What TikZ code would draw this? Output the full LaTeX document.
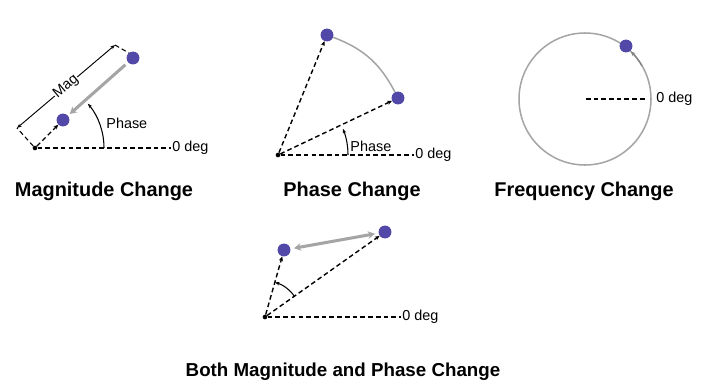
\documentclass[tikz,border=0pt]{standalone}
\usepackage{fontspec}
\setmainfont{Liberation Sans}
\usetikzlibrary{arrows.meta}
\definecolor{dotblue}{RGB}{82,72,168}
\definecolor{trackgray}{RGB}{165,165,165}
\begin{document}
\begin{tikzpicture}[x=0.03cm, y=-0.03cm,
    dot/.style={circle, fill=dotblue, inner sep=0pt, minimum size=11pt},
    origin/.style={circle, fill=black, inner sep=0pt, minimum size=4pt},
    vec/.style={dash pattern=on 4pt off 2.6pt, line width=1.2pt, -{Stealth[length=4pt, width=3.5pt]}},
    zero/.style={dash pattern=on 4pt off 2.6pt, line width=1.2pt},
    move/.style={trackgray, line width=2.6pt, -{Stealth[length=6pt, width=6.5pt]}},
    track/.style={trackgray, line width=1.3pt},
    angle/.style={line width=0.9pt, -{Stealth[length=4pt, width=3pt]}},
    lbl/.style={font=\fontsize{12.3}{14}\selectfont, anchor=west, inner sep=1pt},
    title/.style={font=\fontsize{17}{20}\selectfont\bfseries}
]
\useasboundingbox (0,0) rectangle (703,386);

% Magnitude change
\node[origin] (o1) at (35,148) {};
\node[dot] (d1a) at (63,120) {};
\node[dot] (d1b) at (133,58) {};
\node[lbl] (zero1) at (171,148) {0 deg};
\coordinate (m1) at (17,128);
\coordinate (m2) at (115,45);
\coordinate (e1) at (129,53);
\draw[zero] (o1) -- (zero1.west);
\draw[vec] (o1) -- (d1a);
\draw[move, shorten <=3pt, shorten >=2pt] (d1b) -- (d1a);
\draw[zero, line width=0.9pt] (o1) -- (m1);
\draw[zero, line width=0.9pt] (m2) -- (e1);
\draw[{Stealth[length=4pt, width=3pt]}-{Stealth[length=4pt, width=3pt]}, line width=0.8pt] (m1) -- node[sloped, fill=white, inner sep=0.5pt, font=\fontsize{12.3}{14}\selectfont] (mag) {Mag} (m2);
\draw[angle] (o1) ++(69,0) arc[start angle=0, end angle=-40, radius=69];
\node[lbl] (phase1) at (105,123) {Phase};
\node[title] (t1) at (104,191) {Magnitude Change};

% Phase change
\node[origin] (o2) at (278,155) {};
\node[dot] (d2a) at (327,35) {};
\node[dot] (d2b) at (398,98) {};
\node[lbl] (zero2) at (414,155) {0 deg};
\draw[zero] (o2) -- (zero2.west);
\draw[vec] (o2) -- (d2a);
\draw[vec] (o2) -- (d2b);
\draw[track] (d2a) to[bend left=21] (d2b);
\draw[angle] (o2) ++(70,0) arc[start angle=0, end angle=-22, radius=70];
\node[lbl] (phase2) at (349,146) {Phase};
\node[title] (t2) at (352,191) {Phase Change};

% Frequency change
\node[inner sep=0pt] (c3) at (585,99) {};
\draw[track] (c3) circle[radius=66];
\node[dot] (d3) at (626,46) {};
\node[lbl] (zero3) at (655,99) {0 deg};
\draw[zero] (c3) -- ++(60,0);
\draw[trackgray!80!black, line width=1.1pt, -{Stealth[length=4pt, width=3.5pt]}] (c3) ++(-30:66) arc[start angle=-30, end angle=-46, radius=66];
\node[title] (t3) at (584,191) {Frequency Change};

% Both magnitude and phase change
\node[origin] (o4) at (265,317) {};
\node[dot] (d4a) at (284,250) {};
\node[dot] (d4b) at (385,232) {};
\node[lbl] (zero4) at (401,317) {0 deg};
\draw[zero] (o4) -- (zero4.west);
\draw[vec] (o4) -- (d4a);
\draw[vec] (o4) -- (d4b);
\draw[move, {Stealth[length=6pt, width=6.5pt]}-{Stealth[length=6pt, width=6.5pt]}, shorten <=3pt, shorten >=3pt] (d4a) -- (d4b);
\draw[angle] (o4) ++(-35:36) arc[start angle=-35, end angle=-74, radius=36];
\node[title, font=\fontsize{16}{19}\selectfont\bfseries] (t4) at (343,372) {Both Magnitude and Phase Change};

\end{tikzpicture}
\end{document}
